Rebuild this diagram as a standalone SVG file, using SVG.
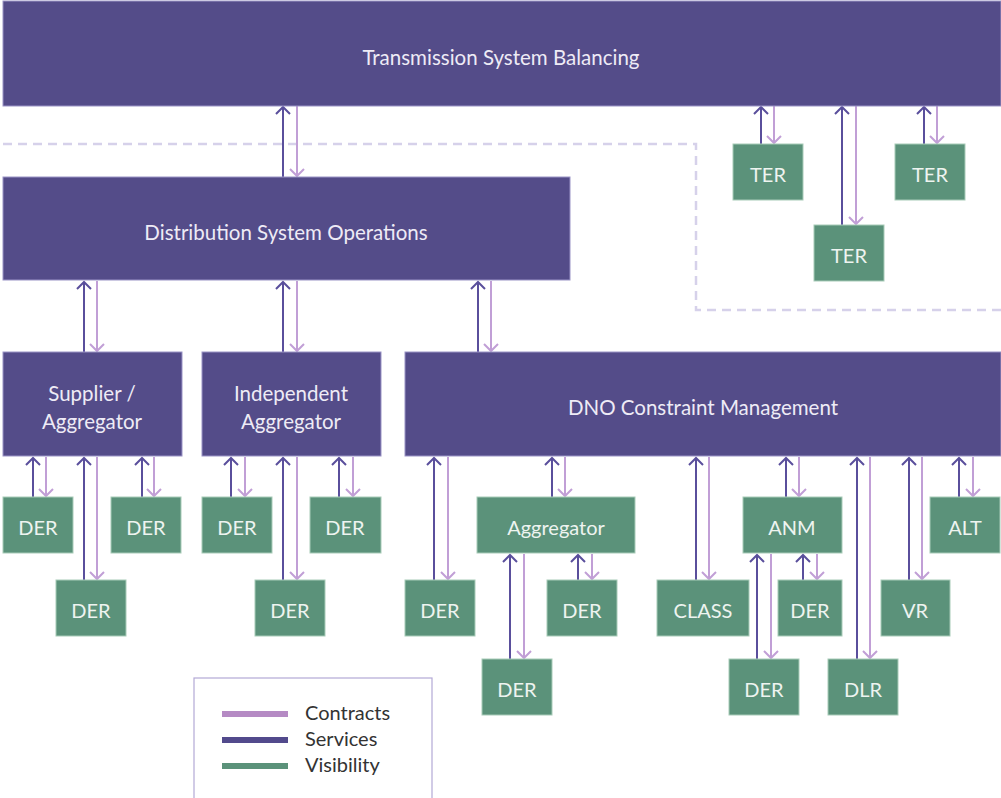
<svg xmlns="http://www.w3.org/2000/svg" width="1001" height="798" viewBox="0 0 1001 798">
<style>
.p{fill:#544c89;stroke:#9a93c6;stroke-width:1}
.g{fill:#5b927a;stroke:#a8cbb8;stroke-width:1}
.t{font-family:Lato,"Open Sans",sans-serif;font-size:20.5px;fill:#eeebf6;text-anchor:middle}
.tg{font-family:Lato,"Open Sans",sans-serif;font-size:20px;fill:#eef4f0;text-anchor:middle}
.s{stroke:#5a4f9c;stroke-width:2;fill:none;marker-end:url(#ms)}
.c{stroke:#c19fd6;stroke-width:2;fill:none;marker-end:url(#mc)}
.lt{font-family:Lato,"Open Sans",sans-serif;font-size:20px;fill:#333}
</style>
<defs>
<marker id="ms" markerUnits="userSpaceOnUse" markerWidth="18" markerHeight="18" refX="8" refY="8" orient="auto" overflow="visible"><path d="M1,1 L8,8 L1,15" fill="none" stroke="#5a4f9c" stroke-width="2"/></marker>
<marker id="mc" markerUnits="userSpaceOnUse" markerWidth="18" markerHeight="18" refX="8" refY="8" orient="auto" overflow="visible"><path d="M1,1 L8,8 L1,15" fill="none" stroke="#c19fd6" stroke-width="2"/></marker>
</defs>
<rect width="1001" height="798" fill="#ffffff"/>
<path d="M3,144 H696 V310 H1001" fill="none" stroke="#d6d1ea" stroke-width="2.5" stroke-dasharray="9,6"/>
<g id="connectors">
<path class="s" d="M283,177 V107"/><path class="c" d="M297,106 V176"/>
<path class="s" d="M761,144 V107"/><path class="c" d="M774,106 V143"/>
<path class="s" d="M842,225 V107"/><path class="c" d="M856,106 V224"/>
<path class="s" d="M924,144 V107"/><path class="c" d="M937,106 V143"/>
<path class="s" d="M84,352 V282"/><path class="c" d="M97,281 V351"/>
<path class="s" d="M283,352 V282"/><path class="c" d="M297,281 V351"/>
<path class="s" d="M478,352 V282"/><path class="c" d="M491,281 V351"/>
<path class="s" d="M33,497 V458"/><path class="c" d="M46,457 V496"/>
<path class="s" d="M84,580 V458"/><path class="c" d="M97,457 V579"/>
<path class="s" d="M142,497 V458"/><path class="c" d="M154,457 V496"/>
<path class="s" d="M231,497 V458"/><path class="c" d="M245,457 V496"/>
<path class="s" d="M283,580 V458"/><path class="c" d="M297,457 V579"/>
<path class="s" d="M339,497 V458"/><path class="c" d="M353,457 V496"/>
<path class="s" d="M434,580 V458"/><path class="c" d="M448,457 V579"/>
<path class="s" d="M552,497 V458"/><path class="c" d="M565,457 V496"/>
<path class="s" d="M510,659 V555"/><path class="c" d="M524,554 V658"/>
<path class="s" d="M578,580 V555"/><path class="c" d="M592,554 V579"/>
<path class="s" d="M696,580 V458"/><path class="c" d="M709,457 V579"/>
<path class="s" d="M786,497 V458"/><path class="c" d="M799,457 V496"/>
<path class="s" d="M757,659 V555"/><path class="c" d="M771,554 V658"/>
<path class="s" d="M803,580 V555"/><path class="c" d="M817,554 V579"/>
<path class="s" d="M857,659 V458"/><path class="c" d="M870,457 V658"/>
<path class="s" d="M909,580 V458"/><path class="c" d="M922,457 V579"/>
<path class="s" d="M959,497 V458"/><path class="c" d="M973,457 V496"/>
</g>
<g id="tsb"><rect class="p" x="3" y="1" width="998" height="105"/><text class="t" x="501" y="65">Transmission System Balancing</text></g>
<g id="dso"><rect class="p" x="3" y="177" width="567" height="103"/><text class="t" x="286" y="240">Distribution System Operations</text></g>
<g id="ter1"><rect class="g" x="733" y="144" width="70" height="56"/><text class="tg" x="768" y="182">TER</text></g>
<g id="ter2"><rect class="g" x="814" y="225" width="70" height="56"/><text class="tg" x="849" y="263">TER</text></g>
<g id="ter3"><rect class="g" x="895" y="144" width="70" height="56"/><text class="tg" x="930" y="182">TER</text></g>
<g id="supplier"><rect class="p" x="3" y="352" width="179" height="104"/><text class="t" x="92" y="401">Supplier /</text><text class="t" x="92" y="429">Aggregator</text></g>
<g id="indep"><rect class="p" x="202" y="352" width="179" height="104"/><text class="t" x="291" y="401">Independent</text><text class="t" x="291" y="429">Aggregator</text></g>
<g id="dno"><rect class="p" x="405" y="352" width="596" height="104"/><text class="t" x="703" y="415">DNO Constraint Management</text></g>
<g id="der1"><rect class="g" x="3" y="497" width="70" height="56"/><text class="tg" x="38" y="535">DER</text></g>
<g id="der2"><rect class="g" x="56" y="580" width="70" height="56"/><text class="tg" x="91" y="618">DER</text></g>
<g id="der3"><rect class="g" x="111" y="497" width="70" height="56"/><text class="tg" x="146" y="535">DER</text></g>
<g id="der4"><rect class="g" x="202" y="497" width="70" height="56"/><text class="tg" x="237" y="535">DER</text></g>
<g id="der5"><rect class="g" x="255" y="580" width="70" height="56"/><text class="tg" x="290" y="618">DER</text></g>
<g id="der6"><rect class="g" x="310" y="497" width="71" height="56"/><text class="tg" x="345" y="535">DER</text></g>
<g id="der7"><rect class="g" x="405" y="580" width="70" height="56"/><text class="tg" x="440" y="618">DER</text></g>
<g id="aggr"><rect class="g" x="477" y="497" width="158" height="56"/><text class="tg" x="556" y="535">Aggregator</text></g>
<g id="der8"><rect class="g" x="482" y="659" width="70" height="56"/><text class="tg" x="517" y="697">DER</text></g>
<g id="der9"><rect class="g" x="547" y="580" width="70" height="56"/><text class="tg" x="582" y="618">DER</text></g>
<g id="class"><rect class="g" x="657" y="580" width="92" height="56"/><text class="tg" x="703" y="618">CLASS</text></g>
<g id="anm"><rect class="g" x="743" y="497" width="99" height="56"/><text class="tg" x="792" y="535">ANM</text></g>
<g id="der10"><rect class="g" x="729" y="659" width="70" height="56"/><text class="tg" x="764" y="697">DER</text></g>
<g id="der11"><rect class="g" x="778" y="580" width="64" height="56"/><text class="tg" x="810" y="618">DER</text></g>
<g id="dlr"><rect class="g" x="828" y="659" width="70" height="56"/><text class="tg" x="863" y="697">DLR</text></g>
<g id="vr"><rect class="g" x="881" y="580" width="69" height="56"/><text class="tg" x="915" y="618">VR</text></g>
<g id="alt"><rect class="g" x="930" y="497" width="70" height="56"/><text class="tg" x="965" y="535">ALT</text></g>
<g id="legend">
<rect x="194" y="678" width="238" height="130" fill="#fff" stroke="#b3a9d6" stroke-width="1.2"/>
<line x1="222" y1="714" x2="288" y2="714" stroke="#b58ac4" stroke-width="6"/>
<line x1="222" y1="740" x2="288" y2="740" stroke="#524a8c" stroke-width="6"/>
<line x1="222" y1="766" x2="288" y2="766" stroke="#5b927a" stroke-width="6"/>
<text class="lt" x="305" y="720">Contracts</text>
<text class="lt" x="305" y="746">Services</text>
<text class="lt" x="305" y="772">Visibility</text>
</g>
</svg>
